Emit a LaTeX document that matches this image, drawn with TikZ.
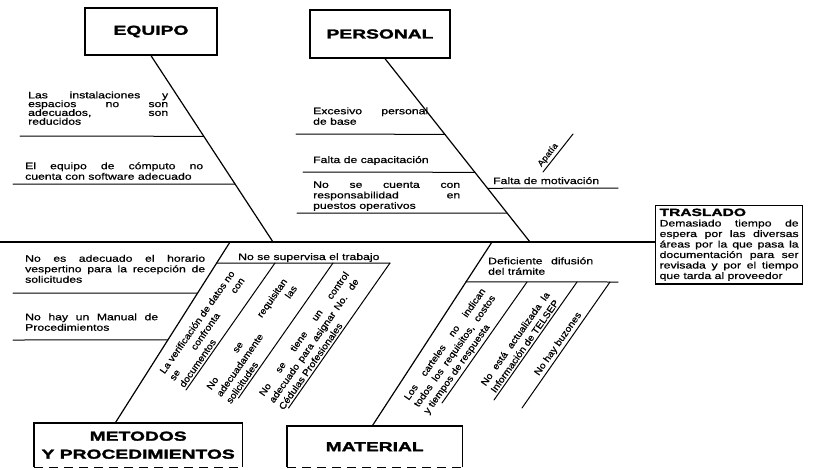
\documentclass[tikz,border=0pt]{standalone}
\usepackage{fontspec}
\setmainfont{Liberation Sans}
\newfontfamily\bodyfont{Liberation Sans}[FakeStretch=1.3,FakeBold=0.8]
\newfontfamily\rotfont{Liberation Sans}[FakeStretch=1.1,FakeBold=0.8]
\newfontfamily\titlefont{Liberation Sans}[FakeStretch=1.48,FakeBold=2]
\usetikzlibrary{calc}
\tolerance=10000
\hbadness=10000
\hyphenpenalty=10000
\exhyphenpenalty=10000
\tikzset{
  bone/.style={line width=1.2pt, line cap=round},
  twig/.style={line width=1pt, line cap=round},
  catbox/.style={draw, line width=1.3pt, inner sep=0pt, align=center,
    font=\titlefont\bfseries\fontsize{13}{18}\selectfont},
  openbox/.style={inner sep=0pt, align=center,
    font=\titlefont\bfseries\fontsize{13}{18}\selectfont},
  cause/.style={inner sep=0pt, font=\bodyfont\fontsize{9.4}{10.5}\selectfont},
  para/.style={cause, align=justify},
  rcause/.style={inner xsep=0pt, inner ysep=2pt, align=justify, sloped,
    anchor=south west, font=\rotfont\fontsize{9.4}{12}\selectfont},
}
\begin{document}
\begin{tikzpicture}[x=1pt,y=-1pt]
\useasboundingbox (0,0) rectangle (814,469);

% ---------- category boxes ----------
\node[catbox, minimum width=132pt, minimum height=47pt] (equipo) at (151,31.5) {EQUIPO};
\node[catbox, minimum width=140pt, minimum height=48pt] (personal) at (380,34) {PERSONAL};
\node[openbox, minimum width=208pt, minimum height=44pt, anchor=north west] (metodos) at (34,423)
  {METODOS\\Y PROCEDIMIENTOS};
\node[openbox, minimum width=175pt, minimum height=41pt, anchor=north west] (material) at (287,426) {MATERIAL};
\foreach \b in {metodos,material}{
  \draw[line width=1.3pt] (\b.south west) -- (\b.north west) -- (\b.north east) -- (\b.south east);
  \draw[line width=1.3pt, dash pattern=on 9pt off 6pt] (\b.south west) -- (\b.south east);
}
\node[draw, line width=1.3pt, anchor=north west, text width=139pt, inner xsep=4pt, inner ysep=3pt,
      align=justify, font=\bodyfont\fontsize{9.4}{10.5}\selectfont] (traslado) at (655,205)
  {{\titlefont\bfseries\fontsize{10.5}{12}\selectfont TRASLADO}\par
   Demasiado tiempo de\linebreak espera por las diversas\linebreak áreas por la que pasa la\linebreak
   documentación para ser\linebreak revisada y por el tiempo\linebreak que tarda al proveedor};

% ---------- spine and main bones ----------
\coordinate (tail) at (0,242);
\coordinate (jM) at (230,242);
\coordinate (jE) at (273,242);
\coordinate (jT) at (492,242);
\coordinate (jP) at (530,242);
\draw[bone] (tail) -- (tail -| traslado.west);

\coordinate (eTop) at (equipo.south);
\coordinate (pTop) at ($(personal.south)+(5,0)$);
\coordinate (mBot) at ($(metodos.north)+(-23,0)$);
\coordinate (tBot) at ($(material.north)+(-2.5,0)$);
\draw[bone] (eTop) -- (jE);
\draw[bone] (pTop) -- (jP);
\draw[bone] (mBot) -- (jM);
\draw[bone] (tBot) -- (jT);

% ---------- EQUIPO causes ----------
\coordinate (e1) at (20,136);
\draw[twig] (e1) -- ($(eTop)!0.433!(jE)$);
\node[para, text width=140pt, anchor=south west, font=\bodyfont\fontsize{9.4}{8.8}\selectfont] (te1) at (28,125)
  {Las instalaciones y\linebreak espacios no son\linebreak adecuados, son\linebreak reducidos};
\coordinate (e2) at (13,184);
\draw[twig] (e2) -- ($(eTop)!0.690!(jE)$);
\node[para, text width=178pt, anchor=south west] (te2) at (25,180)
  {El equipo de cómputo no\linebreak cuenta con software adecuado};

% ---------- PERSONAL causes ----------
\coordinate (p1) at (296,134);
\draw[twig] (p1) -- ($(pTop)!0.413!(jP)$);
\node[para, text width=115pt, anchor=south west] (tp1) at (313,125)
  {Excesivo personal\linebreak de base};
\coordinate (p2) at (303,172);
\draw[twig] (p2) -- ($(pTop)!0.620!(jP)$);
\node[cause, anchor=base west] (tp2) at (313,163) {Falta de capacitación};
\coordinate (p3) at (297,213);
\draw[twig] (p3) -- ($(pTop)!0.842!(jP)$);
\node[para, text width=147pt, anchor=south west] (tp3) at (313,211)
  {No se cuenta con\linebreak responsabilidad en\linebreak puestos operativos};
\coordinate (p4) at (618,188);
\draw[twig] ($(pTop)!0.707!(jP)$) -- (p4);
\node[cause, anchor=base west] (tp4) at (493,184) {Falta de motivación};
\coordinate (a1) at (543,172);
\coordinate (a2) at (573,134);
\draw[twig] (a1) -- (a2) node[rcause, pos=0.05, font=\rotfont\fontsize{8.5}{10}\selectfont] (tap) {Apatía};

% ---------- METODOS causes ----------
\coordinate (m1) at (13,293);
\draw[twig] (m1) -- ($(mBot)!0.718!(jM)$);
\node[para, text width=180pt, anchor=south west] (tm1) at (25,283)
  {No es adecuado el horario\linebreak vespertino para la recepción de\linebreak solicitudes};
\coordinate (m2) at (13,340);
\draw[twig] (m2) -- ($(mBot)!0.459!(jM)$);
\node[para, text width=133pt, anchor=south west] (tm2) at (25,331)
  {No hay un Manual de\linebreak Procedimientos};

\coordinate (s1t) at (275,263);   \coordinate (s1b) at (186,390);
\coordinate (s2t) at (333,263);   \coordinate (s2b) at (238.5,398);
\coordinate (s3t) at (390,263);   \coordinate (s3b) at (288.5,408);
\coordinate (sv) at ($(mBot)!0.884!(jM)$);
\draw[twig] (sv) -- (s3t);
\node[cause, anchor=base west] (tsv) at (238,260) {No se supervisa el trabajo};

\draw[twig] (s1b) -- (s1t) node[rcause, pos=0, text width=123pt] (ts1)
  {La verificación de datos no\linebreak se confronta con\linebreak documentos};
\draw[twig] (s2b) -- (s2t) node[rcause, pos=-0.06, text width=133pt] (ts2)
  {No se requisitan\linebreak adecuadamente las\linebreak solicitudes};
\draw[twig] (s3b) -- (s3t) node[rcause, pos=-0.03, text width=149pt] (ts3)
  {No se tiene un control\linebreak adecuado para asignar No. de\linebreak Cédulas Profesionales};

% ---------- MATERIAL causes ----------
\coordinate (df) at ($(tBot)!0.783!(jT)$);
\coordinate (dfEnd) at (618,282);
\draw[twig] (df) -- (dfEnd);
\node[para, text width=105pt, anchor=south west] (tdf) at (488,275)
  {Deficiente difusión\linebreak del trámite};

\coordinate (s4t) at (527,282);   \coordinate (s4b) at (442,403);
\coordinate (s5t) at (577,282);   \coordinate (s5b) at (494,400);
\coordinate (s6t) at (610,282);   \coordinate (s6b) at (522,408);
\draw[twig] (s4b) -- (s4t) node[rcause, pos=-0.12, text width=134pt] (ts4)
  {Los carteles no indican\linebreak todos los requisitos, costos\linebreak y tiempos de respuesta};
\draw[twig] (s5b) -- (s5t) node[rcause, pos=0.04, text width=112pt] (ts5)
  {No está actualizada la\linebreak Información de TELSEP};
\draw[twig] (s6b) -- (s6t) node[rcause, pos=0.23] (ts6) {No hay buzones};
\end{tikzpicture}
\end{document}
